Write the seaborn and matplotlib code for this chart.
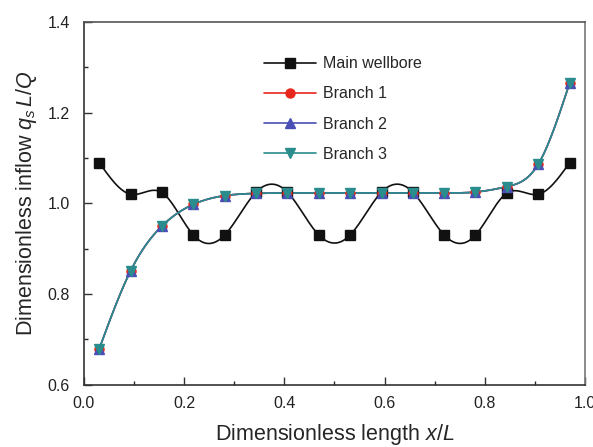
import numpy as np
import pandas as pd
import matplotlib
matplotlib.use("Agg")
import matplotlib.pyplot as plt
import seaborn as sns
from matplotlib.ticker import MultipleLocator

# ---- data ----
x_pos = [0.031, 0.094, 0.156, 0.219, 0.281, 0.344, 0.406, 0.469,
         0.531, 0.594, 0.656, 0.719, 0.781, 0.844, 0.906, 0.969]
main_wellbore = [1.090, 1.020, 1.024, 0.930, 0.930, 1.025, 1.025, 0.930,
                 0.930, 1.025, 1.025, 0.930, 0.930, 1.023, 1.020, 1.090]
branch_1 = [0.679, 0.852, 0.950, 0.998, 1.017, 1.022, 1.023, 1.023,
            1.023, 1.023, 1.023, 1.023, 1.025, 1.037, 1.086, 1.266]
branch_2 = [0.679, 0.852, 0.950, 0.998, 1.017, 1.022, 1.023, 1.023,
            1.023, 1.023, 1.023, 1.023, 1.025, 1.037, 1.086, 1.266]
branch_3 = [0.679, 0.852, 0.950, 0.998, 1.017, 1.022, 1.023, 1.023,
            1.023, 1.023, 1.023, 1.023, 1.025, 1.037, 1.086, 1.266]
series_names = ["Main wellbore", "Branch 1", "Branch 2", "Branch 3"]


def natural_spline(x, y, n=400):
    x = np.asarray(x, float); y = np.asarray(y, float)
    m = len(x); h = np.diff(x)
    A = np.zeros((m, m)); b = np.zeros(m)
    A[0, 0] = 1; A[-1, -1] = 1
    for i in range(1, m - 1):
        A[i, i - 1] = h[i - 1]; A[i, i] = 2 * (h[i - 1] + h[i]); A[i, i + 1] = h[i]
        b[i] = 3 * ((y[i + 1] - y[i]) / h[i] - (y[i] - y[i - 1]) / h[i - 1])
    c = np.linalg.solve(A, b)
    xs = np.linspace(x[0], x[-1], n)
    idx = np.clip(np.searchsorted(x, xs) - 1, 0, m - 2)
    dx = xs - x[idx]
    bb = (y[idx + 1] - y[idx]) / h[idx] - h[idx] * (2 * c[idx] + c[idx + 1]) / 3
    d = (c[idx + 1] - c[idx]) / (3 * h[idx])
    ys = y[idx] + bb * dx + c[idx] * dx ** 2 + d * dx ** 3
    return xs, ys


sns.set_style("ticks")
plt.rcParams["font.family"] = ["Liberation Sans", "DejaVu Sans"]
plt.rcParams["mathtext.fontset"] = "custom"
plt.rcParams["mathtext.rm"] = "Liberation Sans"
plt.rcParams["mathtext.it"] = "Liberation Sans:italic"

fig = plt.figure(figsize=(5.93, 4.47), dpi=100)
ax = fig.add_axes([0.141, 0.139, 0.846, 0.812])

colors = ["#111111", "#e8271c", "#4a4fb5", "#2a8c8c"]
markers = ["s", "o", "^", "v"]
sizes = [6.5, 6.5, 7.5, 7.5]
all_vals = [main_wellbore, branch_1, branch_2, branch_3]

for name, vals, col, mk, ms in zip(series_names, all_vals, colors, markers, sizes):
    xs, ys = natural_spline(x_pos, vals)
    sns.lineplot(x=xs, y=ys, ax=ax, color=col, lw=1.2, sort=False, legend=False)
    df = pd.DataFrame({"x": x_pos, "y": vals})
    ax.plot(df["x"], df["y"], ls="none", marker=mk, ms=ms, color=col,
            markeredgecolor=col, zorder=3)
    ax.plot([], [], color=col, lw=1.2, marker=mk, ms=ms, label=name)

ax.set_xlim(0.0, 1.0)
ax.set_ylim(0.6, 1.4)
ax.xaxis.set_major_locator(MultipleLocator(0.2))
ax.xaxis.set_minor_locator(MultipleLocator(0.1))
ax.yaxis.set_major_locator(MultipleLocator(0.2))
ax.yaxis.set_minor_locator(MultipleLocator(0.1))
ax.xaxis.set_major_formatter(matplotlib.ticker.FormatStrFormatter("%.1f"))
ax.yaxis.set_major_formatter(matplotlib.ticker.FormatStrFormatter("%.1f"))
ax.tick_params(which="major", direction="in", length=6, width=1, labelsize=11.5,
               colors="#333333", labelcolor="#222222", top=False, right=False)
ax.tick_params(which="minor", direction="in", length=3, width=1, top=False, right=False)
ax.tick_params(axis="y", which="major", pad=10)
ax.tick_params(axis="x", which="major", pad=8)
for s in ax.spines.values():
    s.set_visible(True)
    s.set_linewidth(1.2)
    s.set_color("#333333")
ax.spines["right"].set_color("#777777")
ax.spines["top"].set_color("#555555")

ax.set_xlabel(r"Dimensionless length $x/L$", fontsize=15.5, labelpad=8)
ax.set_ylabel(r"Dimensionless inflow $q_s\,L/Q$", fontsize=15.5, labelpad=6)

ax.legend(loc="upper left", bbox_to_anchor=(0.33, 0.945), frameon=False,
          fontsize=11.5, handlelength=3.3, labelspacing=0.95, handletextpad=0.4)

fig.savefig("out.png", dpi=100)
